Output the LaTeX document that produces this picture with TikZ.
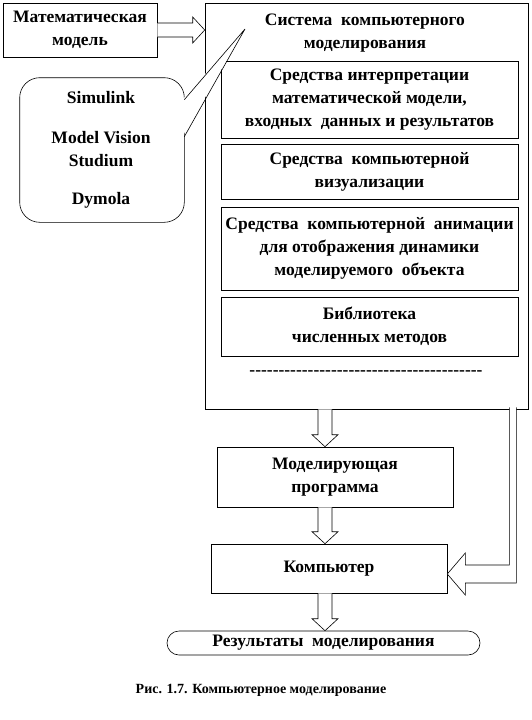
\documentclass[tikz,border=0pt]{standalone}
\usepackage{fontspec}
\setmainfont{Liberation Serif}
\usetikzlibrary{calc,positioning}

\tikzset{
  lbl/.style={font=\bfseries\fontsize{17.5}{23}\selectfont, align=center, inner sep=0pt},
  box/.style={draw, line width=0.6pt, fill=white, lbl},
  hollow/.style={draw, line width=0.6pt, fill=white, line join=miter},
}
% hollow block arrow pointing down, from #1 to #2
\newcommand{\hollowdown}[2]{%
  \draw[hollow] ($(#1)+(-7,0)$) -- ($(#2)+(-7,-12)$) -- ($(#2)+(-13,-12)$) -- (#2)
    -- ($(#2)+(13,-12)$) -- ($(#2)+(7,-12)$) -- ($(#1)+(7,0)$);}
\newcommand{\dashrow}{\foreach \i in {1,...,40}{-{}}}

\begin{document}
\begin{tikzpicture}[x=1pt, y=-1pt]
    \useasboundingbox (0,0) rectangle (531,720);

    % system of computer modelling
    \node[box, minimum width=323, minimum height=406] (sys) at (366.5,206) {};
    \node[lbl] (systitle) at (365,33) {Система~ компьютерного\\моделирования};
    \node[box, minimum width=297, minimum height=77] (interp) at (369.5,99.5)
        {Средства интерпретации\\математической модели,\\входных~ данных и результатов};
    \node[box, minimum width=297, minimum height=55] (visual) at (369.5,171.5)
        {Средства~ компьютерной\\визуализации};
    \node[box, minimum width=297, minimum height=83] (anim) at (369.5,248.5)
        {Средства~ компьютерной~ анимации\\для отображения динамики\\моделируемого~ объекта};
    \node[box, minimum width=297, minimum height=59] (lib) at (369.5,326.5)
        {Библиотека\\численных методов};
    \node[lbl] (more) at (366,373) {\dashrow};

    % input model and tools
    \node[box, minimum width=154, minimum height=54] (model) at (80,30)
        {Математическая\\модель};
    \node[box, draw=none, fill=none, minimum width=164, minimum height=144] (tools) at (102,150) {};
    \draw[line width=0.6pt, rounded corners=20] (tools.north west) rectangle (tools.south east);
    \node[lbl] (simulink) at (101,98) {Simulink};
    \node[lbl] (mvs) at (101,149) {Model Vision\\Studium};
    \node[lbl] (dymola) at (101,200) {Dymola};
    \coordinate (tip) at (245,29);
    \coordinate (ptA) at ($(tools.north east)+(0,22)$);
    \coordinate (ptB) at ($(tools.north east)+(0,59)$);
    \fill[white] ($(ptA)+(-2,0)$) -- (tip) -- ($(ptB)+(-2,0)$) -- cycle;
    \draw[line width=0.6pt] (ptA) -- (tip) -- (ptB);

    % program, computer, results
    \node[box, minimum width=236, minimum height=60] (prog) at (335,477)
        {Моделирующая\\программа};
    \node[box, minimum width=236, minimum height=49] (comp) at (329,568.5) {Компьютер};
    \node[box, rounded corners=12, minimum width=313, minimum height=24] (res) at (323.5,643)
        {Результаты~ моделирования};
    \node[lbl, font=\bfseries\fontsize{14}{18}\selectfont] (caption) at (261,690)
        {Рис. 1.7. Компьютерное моделирование};

    % block arrows
    \coordinate (mtip) at (sys.west |- model.east);
    \draw[hollow] ($(model.east)+(0,-7)$) -- ($(mtip)+(-12,-7)$) -- ($(mtip)+(-12,-13)$) -- (mtip)
        -- ($(mtip)+(-12,13)$) -- ($(mtip)+(-12,7)$) -- ($(model.east)+(0,7)$);
    \coordinate (axis) at (325,0);
    \coordinate (a1) at (axis |- sys.south);
    \coordinate (a2) at (axis |- prog.north);
    \coordinate (a3) at (axis |- prog.south);
    \coordinate (a4) at (axis |- comp.north);
    \coordinate (a5) at (axis |- comp.south);
    \coordinate (a6) at (axis |- res.north);
    \hollowdown{a1}{a2}
    \hollowdown{a3}{a4}
    \hollowdown{a5}{a6}

    % feedback from system to computer
    \coordinate (fb) at ($(comp.east)+(0,5.5)$);
    \coordinate (fbtop) at ($(sys.south east)+(-15.5,-2)$);
    \draw[hollow] ($(fbtop)+(-3.5,0)$) |- ($(fb)+(18,-9)$) -- ($(fb)+(18,-21)$) -- (fb)
        -- ($(fb)+(18,21)$) -- ($(fb)+(18,9)$) -| ($(fbtop)+(3.5,0)$);
\end{tikzpicture}
\end{document}
